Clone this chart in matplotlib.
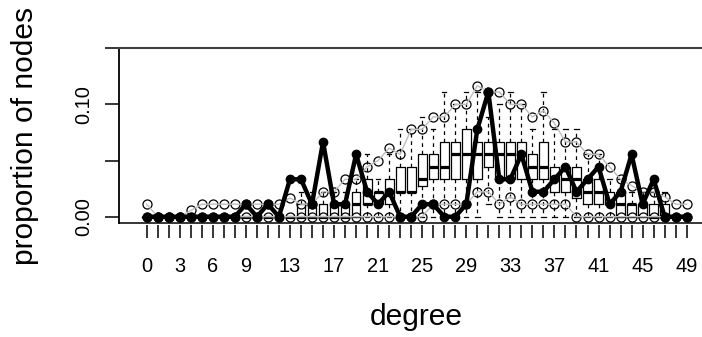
import matplotlib
matplotlib.use('Agg')
import matplotlib.pyplot as plt

plt.rcParams['font.family'] = ['Liberation Sans', 'DejaVu Sans']

# ---------------- data (counts of nodes, out of N_NODES) ----------------
N_NODES = 90
degrees = list(range(50))
shown_tick_labels = [0, 3, 6, 9, 13, 17, 21, 25, 29, 33, 37, 41, 45, 49]

observed = [0, 0, 0, 0, 0, 0, 0, 0, 0, 1,
            0, 1, 0, 3, 3, 1, 6, 1, 1, 5,
            2, 1, 2, 0, 0, 1, 1, 0, 0, 1,
            7, 10, 3, 3, 5, 2, 2, 3, 4, 2,
            3, 4, 1, 2, 5, 1, 3, 0, 0, 0]

q_low = [0, 0, 0, 0, 0, 0, 0, 0, 0, 0,
         0, 0, 0, 0, 0, 0, 0, 0, 0, 0,
         0, 0, 0, 0, 0, 0, 1, 1, 1, 1,
         2, 2, 1, 1.6, 1, 1, 1, 1, 1, 0,
         0, 0, 0, 0, 0, 0, 0, 0, 0, 0]

q_high = [1, 0, 0, 0, 0.5, 1, 1, 1, 1, 1,
          1, 1, 1, 1.5, 1, 1, 2, 2, 3, 3,
          4, 4.5, 5.5, 5, 7, 7, 8, 8, 9, 9,
          10.5, 10, 10, 9, 9, 8, 8.5, 7.5, 6, 6,
          5, 5, 4, 3, 2.5, 2, 2, 1.6, 1, 1]

box_q1 = [0, 0, 0, 0, 0, 0, 0, 0, 0, 0,
          0, 0, 0, 0, 0, 0, 0, 0, 0, 0,
          1, 1, 1, 2, 2, 2.5, 3, 3, 3, 3,
          3, 4, 3, 3, 3, 3, 3, 2, 2, 1.5,
          1, 1, 1, 0, 0, 0, 0, 0, 0, 0]

box_med = [0, 0, 0, 0, 0, 0, 0, 0, 0, 0,
           0, 0, 0, 0, 0, 0, 0, 0, 0, 1,
           1, 2, 2, 2, 2, 3, 4, 4, 5, 5,
           5, 5, 5, 5, 5, 4, 4, 3, 3, 3,
           2, 2, 1, 1, 1, 1, 0, 0, 0, 0]

box_q3 = [0, 0, 0, 0, 0, 0, 0, 0, 0, 0,
          0, 0, 0, 0, 1, 1, 1, 1, 1, 2,
          3, 2, 3, 4, 4, 5, 5, 6, 6, 7,
          6, 6, 6, 6, 6, 5, 6, 4, 4, 4,
          3, 3, 2, 2, 1, 1, 1, 1, 0, 0]

whisk_lo = [0, 0, 0, 0, 0, 0, 0, 0, 0, 0,
            0, 0, 0, 0, 0, 0, 0, 0, 0, 0,
            0, 0, 0, 0, 0, 0, 0, 0, 0, 0,
            0, 1, 0, 0, 0, 0, 0, 0, 0, 0,
            0, 0, 0, 0, 0, 0, 0, 0, 0, 0]

whisk_hi = [0, 0, 0, 0, 0, 0, 0, 0, 0, 0,
            0, 0, 0, 0, 2, 2, 2, 2, 2, 3,
            5, 3, 5, 7, 7, 8, 7, 10, 9, 10,
            10, 8, 9, 10, 9, 7, 10, 7, 7, 7,
            5, 5, 3, 3, 2, 2, 2, 2, 0, 0]


def prop(v):
    return [x / N_NODES for x in v]


# ---------------- figure ----------------
W, H = 702, 337
fig = plt.figure(figsize=(W / 100, H / 100), dpi=100)
ax_left, ax_right, ax_top, ax_bottom = 119, 702, 48.3, 222.7
ax = fig.add_axes([ax_left / W, (H - ax_bottom) / H,
                   (ax_right - ax_left) / W, (ax_bottom - ax_top) / H])

stats = []
for i, d in enumerate(degrees):
    stats.append(dict(med=box_med[i] / N_NODES, q1=box_q1[i] / N_NODES,
                      q3=box_q3[i] / N_NODES, whislo=whisk_lo[i] / N_NODES,
                      whishi=whisk_hi[i] / N_NODES, fliers=[]))

ax.bxp(stats, positions=degrees, widths=0.8, showfliers=False, manage_ticks=False,
       boxprops=dict(color='black', linewidth=0.9),
       whiskerprops=dict(color='black', linewidth=0.9, linestyle=(0, (3, 3))),
       capprops=dict(color='black', linewidth=0.9),
       medianprops=dict(color='black', linewidth=2.3, solid_capstyle='butt'),
       zorder=2)

for q in (q_low, q_high):
    ax.plot(degrees, prop(q), linestyle='none', marker='o', mfc='none',
            mec='black', ms=6.5, mew=0.9, zorder=3)
    ax.plot(degrees, prop(q), color='#BEBEBE', lw=1.0, zorder=3.1)

ax.plot(degrees, prop(observed), color='black', lw=3.2, zorder=5,
        solid_joinstyle='round', solid_capstyle='round')
ax.plot(degrees, prop(observed), linestyle='none', marker='o', color='black',
        ms=6, zorder=5)

x0, dx = 146.7, 11.02
ax.set_xlim((ax_left - x0) / dx, (ax_right - x0) / dx)
ax.set_ylim(-0.00535, 0.15)

# spines
ax.spines['right'].set_visible(False)
ax.spines['top'].set_color('#404040')
ax.spines['top'].set_linewidth(1.5)
ax.spines['left'].set_color('black')
ax.spines['left'].set_linewidth(1.3)
ax.spines['bottom'].set_position(('outward', 1.7))
ax.spines['bottom'].set_color('none')
ax.plot([0, 1], [0, 0], transform=ax.transAxes, color='black', lw=1.1,
        clip_on=False, zorder=6)

# ticks
ax.set_xticks(degrees)
ax.set_xticklabels([str(d) if d in shown_tick_labels else '' for d in degrees])
ax.tick_params(axis='x', length=9, width=1.1, pad=14.3, labelsize=14.4,
               direction='out', colors='black')
ax.set_yticks([0, 0.05, 0.10, 0.15])
ax.set_yticklabels(['0.00', '', '0.10', ''], rotation=90, va='center')
ax.tick_params(axis='y', length=10, width=1.1, pad=8.4, labelsize=14.4,
               direction='out', colors='black')

fig.text(416 / W, (H - 316.7) / H, 'degree', ha='center', va='center',
         fontsize=21.6)
fig.text(25.3 / W, (H - 135.5) / H, 'proportion of nodes', ha='center',
         va='center', rotation=90, fontsize=21.6)

fig.savefig('out.png', dpi=100)
